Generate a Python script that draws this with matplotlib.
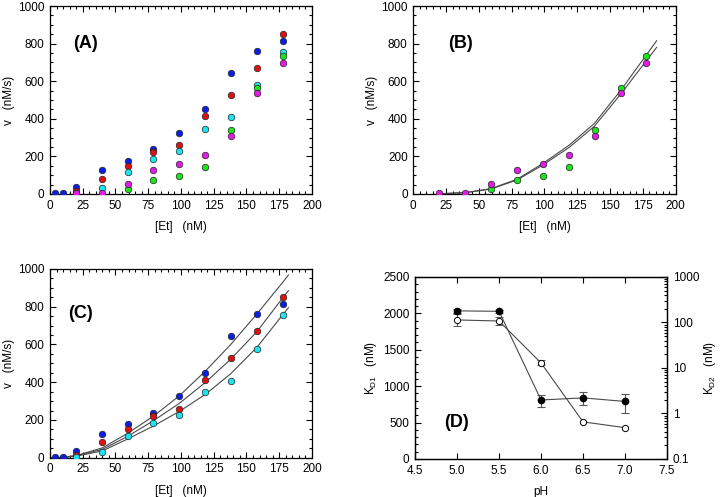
import numpy as np
import matplotlib
matplotlib.use("Agg")
import matplotlib.pyplot as plt
from matplotlib.ticker import MultipleLocator, LogLocator, NullFormatter, FuncFormatter

plt.rcParams['font.family'] = ['Liberation Sans', 'DejaVu Sans']
plt.rcParams['font.size'] = 8.5

# --- rate data, panels A-C (v in nM/s vs [Et] in nM) ---
et = [3.95, 9.875, 19.75, 39.5, 59.25, 79, 98.75, 118.5, 138.25, 158, 177.75]
v_blue = [3, 5, 37, 125, 178, 239, 327, 450, 645, 763, 814]
et_red = et[2:]
v_red = [16, 81, 150, 223, 260, 413, 527, 671, 853]
et_cyan = et[2:]
v_cyan = [5, 32, 117, 184, 228, 346, 408, 578, 758]
et_green = et[4:]
v_green = [26, 74, 94, 143, 339, 565, 733]
et_magenta = et[2:]
v_magenta = [5, 5, 53, 127, 159, 207, 307, 539, 696]

# fitted curves
fitB_x = [20, 40, 59, 79, 98.75, 118.5, 138, 158, 185.5]
fitB_green = [1, 8, 28, 78, 162, 258, 375, 550, 815]
fitB_magenta = [1, 7, 26, 74, 154, 246, 360, 530, 780]

fitC_x = [0, 10, 20, 40, 59, 79, 98.75, 118.5, 138, 158, 177.75, 182]
fitC_blue = [0, 2, 11, 52, 128, 220, 328, 458, 600, 762, 930, 968]
fitC_red = [0, 2, 10, 44, 112, 196, 288, 398, 522, 668, 848, 885]
fitC_cyan = [0, 1, 8, 36, 98, 168, 245, 335, 445, 585, 758, 795]

# --- panel D: dissociation constants vs pH ---
ph = [5.0, 5.5, 6.0, 6.5, 7.0]
kd1 = [1910, 1895, 1320, 510, 430]
kd1_err = [85, 60, 35, np.nan, np.nan]
kd2 = [180, 176, 1.98, 2.2, 1.84]
kd2_err = [20, 12, 0.6, 0.7, 0.8]

BLUE, RED, CYAN, GREEN, MAGENTA = '#0a1fe6', '#e01010', '#19e6f0', '#19e619', '#e619e6'
LINE = '#4a4a4a'

fig = plt.figure(figsize=(7.2, 4.97), dpi=100)
axA = fig.add_axes([0.0694, 0.6097, 0.3639, 0.3782])
axB = fig.add_axes([0.5740, 0.6097, 0.3644, 0.3782])
axC = fig.add_axes([0.0694, 0.0791, 0.3639, 0.3797])
axD = fig.add_axes([0.5764, 0.0765, 0.3500, 0.3662])


def dots(ax, x, y, c):
    ax.plot(x, y, 'o', ms=4.7, mfc=c, mec='#222222', mew=0.5, zorder=3)


def rate_axes(ax, label):
    ax.set_xlim(0, 200)
    ax.set_ylim(0, 1000)
    ax.xaxis.set_major_locator(MultipleLocator(25))
    ax.xaxis.set_minor_locator(MultipleLocator(5))
    ax.yaxis.set_major_locator(MultipleLocator(200))
    ax.yaxis.set_minor_locator(MultipleLocator(50))
    ax.tick_params(which='both', direction='in', top=True, right=True, width=0.8)
    ax.tick_params(which='major', length=4, pad=4)
    ax.tick_params(which='minor', length=2.2)
    ax.set_xlabel('[Et]   (nM)', labelpad=7)
    ax.set_ylabel('v   (nM/s)', labelpad=2)
    for s in ax.spines.values():
        s.set_linewidth(0.9)
    ax.text(label[1], label[2], label[0], fontsize=13, fontweight='bold',
            ha='left', va='center')


# (A) all five series
for x, y, c in [(et, v_blue, BLUE), (et_red, v_red, RED), (et_cyan, v_cyan, CYAN),
                (et_green, v_green, GREEN), (et_magenta, v_magenta, MAGENTA)]:
    dots(axA, x, y, c)
rate_axes(axA, ('(A)', 17.5, 800))

# (B) green and magenta with fits
axB.plot(fitB_x, fitB_green, color=LINE, lw=0.8)
axB.plot(fitB_x, fitB_magenta, color=LINE, lw=0.8)
dots(axB, et_green, v_green, GREEN)
dots(axB, et_magenta, v_magenta, MAGENTA)
rate_axes(axB, ('(B)', 26.5, 800))

# (C) blue, red, cyan with fits
for fy in (fitC_blue, fitC_red, fitC_cyan):
    axC.plot(fitC_x, fy, color=LINE, lw=0.8)
dots(axC, et, v_blue, BLUE)
dots(axC, et_red, v_red, RED)
dots(axC, et_cyan, v_cyan, CYAN)
rate_axes(axC, ('(C)', 13.5, 765))

# (D) KD1 (open, linear left) and KD2 (filled, log right)
axD.errorbar(ph, kd1, yerr=kd1_err, fmt='-o', color=LINE, lw=0.8, ms=4.5,
             mfc='white', mec='black', mew=0.7, ecolor='#555555', elinewidth=0.8,
             capsize=3, capthick=0.8, zorder=3)
axD.set_xlim(4.5, 7.5)
axD.set_ylim(0, 2500)
axD.xaxis.set_major_locator(MultipleLocator(0.5))
axD.xaxis.set_major_formatter(FuncFormatter(lambda v, p: f'{v:.1f}'))
axD.yaxis.set_major_locator(MultipleLocator(500))
axD.yaxis.set_minor_locator(MultipleLocator(100))
axD.tick_params(which='both', direction='in', top=True, right=False, width=0.8)
axD.tick_params(which='major', length=4, pad=4)
axD.tick_params(which='minor', length=2.2)
axD.set_xlabel('pH', labelpad=7)
axD.set_ylabel('K$_{\\mathregular{D1}}$   (nM)', labelpad=3)
axD.text(4.85, 499, '(D)', fontsize=13, fontweight='bold', ha='left', va='center')

ax2 = axD.twinx()
ax2.errorbar(ph, kd2, yerr=kd2_err, fmt='-o', color=LINE, lw=0.8, ms=4.5,
             mfc='black', mec='black', ecolor='#555555', elinewidth=0.8,
             capsize=3, capthick=0.8, zorder=3)
ax2.set_yscale('log')
ax2.set_ylim(0.1, 1000)
ax2.yaxis.set_major_locator(LogLocator(base=10, numticks=10))
ax2.yaxis.set_major_formatter(FuncFormatter(lambda v, p: f'{v:g}'))
ax2.yaxis.set_minor_locator(LogLocator(base=10, subs=np.arange(2, 10), numticks=20))
ax2.yaxis.set_minor_formatter(NullFormatter())
ax2.tick_params(which='both', direction='in', width=0.8)
ax2.tick_params(which='major', length=4, pad=4)
ax2.tick_params(which='minor', length=2.2)
ax2.set_ylabel('K$_{\\mathregular{D2}}$   (nM)', labelpad=2)
for a in (axD, ax2):
    for s in a.spines.values():
        s.set_linewidth(0.9)

fig.savefig('out.png', dpi=100)
